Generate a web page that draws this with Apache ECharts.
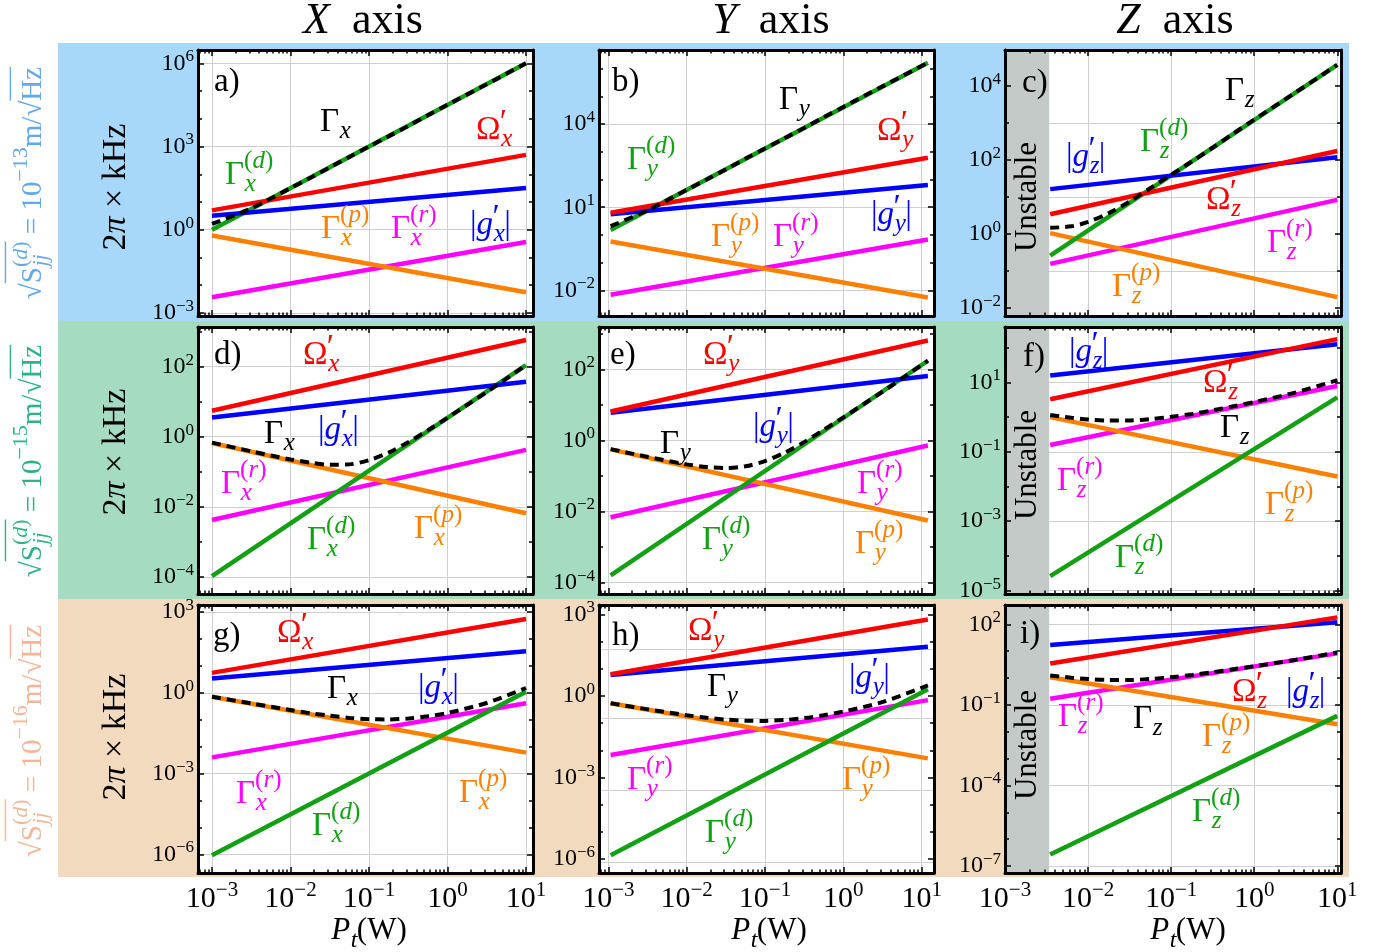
<!DOCTYPE html>
<html>
<head>
<meta charset="utf-8">
<script src="https://cdn.jsdelivr.net/npm/echarts@6/dist/echarts.min.js"></script>
<style>
  html, body { margin: 0; padding: 0; background: #fff; }
  #chart { width: 1396px; height: 952px; }
</style>
</head>
<body>
<div id="chart"></div>
<script>
// ---- data (values in 2pi x kHz, power in W) ----

// power at the ends of the straight (power-law) lines, per column
var P_LINE_X = [1e-3, 10];
var P_LINE_Y = [1.07e-3, 12];
var P_LINE_Z = [3.5e-3, 10];
// power samples of the dashed total damping curve, per column
var P_TOT_X = [1e-3, 3.2e-3, 1e-2, 1.8e-2, 3.2e-2, 5.6e-2, 0.1, 0.18, 0.32, 0.56, 1, 3.2, 10];
var P_TOT_Y = [1.07e-3, 3.2e-3, 1e-2, 1.8e-2, 3.2e-2, 5.6e-2, 0.1, 0.18, 0.32, 0.56, 1, 3.2, 12];
var P_TOT_Z = [3.5e-3, 6.3e-3, 1e-2, 1.8e-2, 3.2e-2, 5.6e-2, 0.1, 0.18, 0.32, 0.56, 1, 3.2, 10];
// unstable power range of the z axis
var UNSTABLE_P = [1e-3, 3.4e-3];

// a) x axis, 1e-13
var A_OMEGA = [5.0, 500];
var A_G = [3.2, 32];
var A_GD = [1.0, 1.0e6];
var A_GP = [0.62, 5.6e-3];
var A_GR = [3.7e-3, 0.36];
var A_GTOT = [1.62, 6.0, 31.8, 75, 178, 422, 1.0e3, 2.37e3, 5.6e3, 1.33e4, 3.2e4, 1.8e5, 1.0e6];
// b) y axis, 1e-13
var B_OMEGA = [6.3, 617];
var B_G = [5.6, 63];
var B_GD = [1.5, 1.66e6];
var B_GP = [0.575, 5.5e-3];
var B_GR = [6.9e-3, 0.68];
var B_GTOT = [2.06, 7.85, 42.4, 100, 237, 562, 1.33e3, 3.16e3, 7.5e3, 1.78e4, 4.2e4, 2.37e5, 1.66e6];
// c) z axis, 1e-13
var C_OMEGA = [3.4, 174];
var C_G = [16.2, 117];
var C_GD = [0.257, 3.7e4];
var C_GP = [1.05, 0.0195];
var C_GR = [0.155, 8.3];
var C_GTOT = [1.46, 1.60, 2.10, 3.70, 7.6, 17.1, 39.5, 92, 216, 513, 1.22e3, 6.8e3, 3.7e4];
// d) x axis, 1e-15
var D_OMEGA = [5.5, 575];
var D_G = [3.5, 37];
var D_GD = [1.05e-4, 110];
var D_GP = [0.66, 6.5e-3];
var D_GR = [4.2e-3, 0.42];
var D_GTOT = [0.676, 0.38, 0.224, 0.182, 0.158, 0.162, 0.214, 0.355, 0.708, 1.51, 3.47, 19.1, 110];
// e) y axis, 1e-15
var E_OMEGA = [6.5, 645];
var E_G = [6.0, 65];
var E_GD = [1.6e-4, 174];
var E_GP = [0.56, 5.6e-3];
var E_GR = [6.9e-3, 0.72];
var E_GTOT = [0.569, 0.343, 0.212, 0.179, 0.168, 0.187, 0.263, 0.457, 0.91, 1.98, 4.45, 23.8, 175];
// f) z axis, 1e-15
var F_OMEGA = [3.3, 178];
var F_G = [15.8, 126];
var F_GD = [2.6e-5, 3.7];
var F_GP = [1.0, 0.0195];
var F_GR = [0.158, 7.9];
var F_GTOT = [1.16, 0.96, 0.86, 0.80, 0.805, 0.875, 1.02, 1.24, 1.58, 2.06, 2.74, 5.2, 11.7];
// g) x axis, 1e-16
var G_OMEGA = [5.5, 550];
var G_G = [3.4, 35];
var G_GD = [9.3e-7, 1.1];
var G_GP = [0.71, 6.0e-3];
var G_GR = [4.0e-3, 0.41];
var G_GTOT = [0.71, 0.40, 0.229, 0.174, 0.141, 0.117, 0.105, 0.103, 0.112, 0.135, 0.178, 0.427, 1.51];
// h) y axis, 1e-16
var H_OMEGA = [6.3, 660];
var H_G = [6.0, 65];
var H_GD = [1.4e-6, 1.78];
var H_GP = [0.54, 5.1e-3];
var H_GR = [6.8e-3, 0.71];
var H_GTOT = [0.544, 0.324, 0.197, 0.160, 0.136, 0.124, 0.122, 0.132, 0.155, 0.196, 0.266, 0.611, 2.46];
// i) z axis, 1e-16
var I_OMEGA = [3.5, 182];
var I_G = [17, 120];
var I_GD = [2.7e-7, 0.039];
var I_GP = [1.07, 0.019];
var I_GR = [0.17, 8.3];
var I_GTOT = [1.24, 1.03, 0.92, 0.85, 0.85, 0.92, 1.07, 1.31, 1.65, 2.12, 2.75, 4.8, 8.9];

// tick exponents (decades) shown per panel
var Y_LABELS = [[-3, 0, 3, 6], [-2, 1, 4], [-2, 0, 2, 4], [-4, -2, 0, 2], [-4, -2, 0, 2], [-5, -3, -1, 1], [-6, -3, 0, 3], [-6, -3, 0, 3], [-7, -4, -1, 2]];
var Y_GRID = [[-3, 0, 3, 6], [-2, 1, 4], [-1, 1, 3], [-4, -2, 0, 2], [-4, -2, 0, 2], [-5, -3, -1, 1], [-6, -3, 0, 3], [-6.1, -3.48, -0.81, 1.73], [-7, -4, -1, 2]];
var X_LABELS = [-3, -2, -1, 0, 1];

// ---- layout ----
var SERIF = '"Liberation Serif", "DejaVu Serif", serif';
var COL = { k: '#000000', r: '#ff0000', b: '#0000ff', g: '#14a014', o: '#ff8000', m: '#ff00ff' };

var COLS = [
  { left: 198, width: 335, xr: [-3.178, 1.089], pl: P_LINE_X, pt: P_TOT_X },
  { left: 599, width: 335, xr: [-3.119, 1.157], pl: P_LINE_Y, pt: P_TOT_Y },
  { left: 1005, width: 336, xr: [-3.0, 1.045], pl: P_LINE_Z, pt: P_TOT_Z }
];
var ROWS = [{ top: 50, height: 266 }, { top: 327, height: 267 }, { top: 605, height: 268 }];

var PANELS = [
  { yr: [-3.11, 6.48], d: [A_OMEGA, A_G, A_GD, A_GP, A_GR, A_GTOT] },
  { yr: [-2.93, 6.68], d: [B_OMEGA, B_G, B_GD, B_GP, B_GR, B_GTOT] },
  { yr: [-2.22, 4.97], d: [C_OMEGA, C_G, C_GD, C_GP, C_GR, C_GTOT] },
  { yr: [-4.49, 3.13], d: [D_OMEGA, D_G, D_GD, D_GP, D_GR, D_GTOT] },
  { yr: [-4.32, 3.19], d: [E_OMEGA, E_G, E_GD, E_GP, E_GR, E_GTOT] },
  { yr: [-5.10, 2.60], d: [F_OMEGA, F_G, F_GD, F_GP, F_GR, F_GTOT] },
  { yr: [-6.69, 3.26], d: [G_OMEGA, G_G, G_GD, G_GP, G_GR, G_GTOT] },
  { yr: [-6.51, 3.35], d: [H_OMEGA, H_G, H_GD, H_GP, H_GR, H_GTOT] },
  { yr: [-7.26, 2.72], d: [I_OMEGA, I_G, I_GD, I_GP, I_GR, I_GTOT] }
];

// ---- text helpers (stacked sub/superscripts) ----
var ctx = document.createElement('canvas').getContext('2d');
function fontStr(size, it) { return (it ? 'italic ' : '') + size + 'px ' + SERIF; }
function tw(t, size, it) { ctx.font = fontStr(size, it); return ctx.measureText(t).width; }
function runsOf(s) {
  return s.split('*').map(function (t, i) { return [t, i % 2 === 1]; }).filter(function (r) { return r[0]; });
}
function mathLabel(atoms, size, color, x, y, opt) {
  opt = opt || {};
  var kids = [];
  var small = Math.round(size * 0.76);
  var cx = 0;
  function put(s, fs, x0, y0) {
    var xx = x0;
    runsOf(s).forEach(function (r) {
      kids.push({ type: 'text', x: xx, y: y0, z: 100, style: {
        text: r[0], font: fontStr(fs, r[1]), fill: color,
        align: 'left', verticalAlign: 'middle', textAlign: 'left', textVerticalAlign: 'middle' } });
      xx += tw(r[0], fs, r[1]);
    });
    return xx - x0;
  }
  atoms.forEach(function (a) {
    var start = cx;
    cx += put(a[0], size, cx, 0);
    var w = 0;
    if (a[1]) w = Math.max(w, put(a[1], small, cx + size * 0.02, size * 0.3));
    if (a[2] === '′') w = Math.max(w, put('′', Math.round(size * 1.0), cx - size * 0.02, -size * 0.2));
    else if (a[2]) w = Math.max(w, put(a[2], small, cx, -size * 0.42));
    cx += w;
    if (a[3]) kids.push({ type: 'line', z: 100, shape: { x1: start, y1: -size * a[3], x2: cx, y2: -size * a[3] },
      style: { stroke: color, lineWidth: 1.4 } });
  });
  if (opt.center) {
    kids.forEach(function (k) {
      if (k.type === 'text') k.x -= cx / 2;
      else { k.shape.x1 -= cx / 2; k.shape.x2 -= cx / 2; }
    });
  }
  return { type: 'group', x: x, y: y, rotation: opt.rot || 0, z: 100, children: kids };
}
function GAM(ax, sup) { return [['Γ', '*' + ax + '*', sup ? '(*' + sup + '*)' : '']]; }
function OM(ax) { return [['Ω', '*' + ax + '*', '′']]; }
function GG(ax) { return [['|'], ['*g*', '*' + ax + '*', '′'], ['|']]; }

// curve labels: [atoms, x, y, colour]
var CURVE_LABELS = [
  [GAM('x'), 320, 122, 'k'], [OM('x'), 476, 130, 'r'], [GAM('x', 'd'), 225, 175, 'g'],
  [GAM('x', 'p'), 321, 229, 'o'], [GAM('x', 'r'), 391, 229, 'm'], [GG('x'), 470, 225, 'b'],
  [GAM('y'), 779, 100, 'k'], [OM('y'), 877, 131, 'r'], [GAM('y', 'd'), 627, 160, 'g'],
  [GAM('y', 'p'), 711, 237, 'o'], [GAM('y', 'r'), 773, 237, 'm'], [GG('y'), 871, 215, 'b'],
  [GAM('z'), 1225, 91, 'k'], [GAM('z', 'd'), 1140, 142, 'g'], [GG('z'), 1066, 157, 'b'],
  [OM('z'), 1206, 200, 'r'], [GAM('z', 'r'), 1267, 243, 'm'], [GAM('z', 'p'), 1112, 287, 'o'],
  [OM('x'), 303, 355, 'r'], [GAM('x'), 264, 434, 'k'], [GG('x'), 318, 430, 'b'],
  [GAM('x', 'r'), 221, 484, 'm'], [GAM('x', 'd'), 307, 540, 'g'], [GAM('x', 'p'), 414, 529, 'o'],
  [OM('y'), 703, 355, 'r'], [GAM('y'), 660, 444, 'k'], [GG('y'), 753, 427, 'b'],
  [GAM('y', 'r'), 857, 484, 'm'], [GAM('y', 'd'), 702, 540, 'g'], [GAM('y', 'p'), 855, 544, 'o'],
  [GG('z'), 1069, 352, 'b'], [OM('z'), 1203, 383, 'r'], [GAM('z'), 1220, 428, 'k'],
  [GAM('z', 'r'), 1057, 481, 'm'], [GAM('z', 'p'), 1265, 505, 'o'], [GAM('z', 'd'), 1115, 558, 'g'],
  [OM('x'), 277, 633, 'r'], [GAM('x'), 327, 689, 'k'], [GG('x'), 418, 688, 'b'],
  [GAM('x', 'r'), 236, 794, 'm'], [GAM('x', 'p'), 459, 793, 'o'], [GAM('x', 'd'), 312, 826, 'g'],
  [OM('y'), 688, 631, 'r'], [GAM('y'), 707, 687, 'k'], [GG('y'), 849, 678, 'b'],
  [GAM('y', 'r'), 627, 780, 'm'], [GAM('y', 'p'), 842, 780, 'o'], [GAM('y', 'd'), 705, 833, 'g'],
  [OM('z'), 1232, 692, 'r'], [GG('z'), 1286, 692, 'b'], [GAM('z', 'r'), 1058, 717, 'm'],
  [GAM('z'), 1133, 719, 'k'], [GAM('z', 'p'), 1202, 737, 'o'], [GAM('z', 'd'), 1192, 812, 'g']
];
var PANEL_TAGS = [['a)', 214, 82], ['b)', 612, 82], ['c)', 1022, 83], ['d)', 214, 355], ['e)', 610, 355],
  ['f)', 1023, 357], ['g)', 213, 636], ['h)', 612, 636], ['i)', 1020, 634]];

var NOISE_EXP = ['−13', '−15', '−16'];
var ROW_TEXT_COL = ['#62a8ea', '#2fb384', '#f3b797'];
var ROW_BAND_COL = ['#a8d8f9', '#a5dbc0', '#f2dabf'];

// ---- build the option ----
function lg(v) { return Math.log10(v); }
function expLabel(v) {
  var e = Math.round(v);
  return '{b|10}{s|' + (e < 0 ? '−' + (-e) : e) + '}';
}
function intsIn(r) { var a = []; for (var n = Math.ceil(r[0] - 1e-9); n <= r[1] + 1e-9; n++) a.push(n); return a; }
function minorLogs(r) {
  var a = [];
  for (var n = Math.floor(r[0]) - 1; n <= Math.ceil(r[1]); n++) {
    for (var k = 2; k <= 9; k++) { var v = n + Math.log10(k); if (v > r[0] && v < r[1]) a.push(v); }
  }
  return a;
}
var frameLine = { show: true, onZero: false, lineStyle: { color: '#000', width: 3 } };
var noLine = { show: false, onZero: false };
var tickStyle = { color: '#000', width: 1.5 };

var grids = [], xAxes = [], yAxes = [], series = [];

PANELS.forEach(function (P, p) {
  var ci = p % 3, ri = Math.floor(p / 3);
  var c = COLS[ci], r = ROWS[ri];
  grids.push({ left: c.left, top: r.top, width: c.width, height: r.height, show: true,
    backgroundColor: '#fff', borderWidth: 0, containLabel: false, outerBoundsMode: 'none' });

  var xr = c.xr, yr = P.yr;
  var xMaj = intsIn(xr), xMin = minorLogs(xr);
  var yDec = intsIn(yr);
  var yLab = Y_LABELS[p];
  var yOther = yDec.filter(function (v) { return yLab.indexOf(v) < 0; });

  function base(extra) {
    return Object.assign({ type: 'value', gridIndex: p, silent: true,
      axisLine: noLine, axisTick: { show: false }, axisLabel: { show: false },
      splitLine: { show: false } }, extra);
  }
  var xb = { min: xr[0], max: xr[1] };
  xAxes.push(base(Object.assign({ position: 'bottom', z: 10, axisLine: frameLine,
    axisTick: { show: true, inside: true, length: 6, customValues: xMaj, lineStyle: tickStyle },
    axisLabel: ri === 2 ? {
      show: true, customValues: X_LABELS, formatter: expLabel, margin: 7, color: '#000',
      rich: {
        b: { fontSize: 30, fontFamily: SERIF, color: '#000', lineHeight: 38 },
        s: { fontSize: 21, fontFamily: SERIF, color: '#000', verticalAlign: 'top', lineHeight: 20 }
      } } : { show: false } }, xb)));
  xAxes.push(base(Object.assign({ position: 'bottom', z: 10,
    axisTick: { show: true, inside: true, length: 3.5, customValues: xMin, lineStyle: tickStyle } }, xb)));
  xAxes.push(base(Object.assign({ position: 'top', z: 10, axisLine: frameLine,
    axisTick: { show: true, inside: true, length: 6, customValues: xMaj, lineStyle: tickStyle } }, xb)));
  xAxes.push(base(Object.assign({ position: 'top', z: 10,
    axisTick: { show: true, inside: true, length: 3.5, customValues: xMin, lineStyle: tickStyle } }, xb)));
  xAxes.push(base(Object.assign({ position: 'bottom', z: 0,
    axisTick: { show: false, customValues: xMaj },
    splitLine: { show: true, lineStyle: { color: '#cfcfcf', width: 1 } } }, xb)));

  var yb = { min: yr[0], max: yr[1] };
  yAxes.push(base(Object.assign({ position: 'left', z: 10, axisLine: frameLine,
    axisTick: { show: true, inside: true, length: 6, customValues: yLab, lineStyle: tickStyle },
    axisLabel: { show: true, customValues: yLab, formatter: expLabel, margin: 4, color: '#000',
      rich: {
        b: { fontSize: 24, fontFamily: SERIF, color: '#000', lineHeight: 30 },
        s: { fontSize: 17, fontFamily: SERIF, color: '#000', verticalAlign: 'top', lineHeight: 16 }
      } } }, yb)));
  yAxes.push(base(Object.assign({ position: 'left', z: 10,
    axisTick: { show: true, inside: true, length: 4, customValues: yOther, lineStyle: tickStyle } }, yb)));
  yAxes.push(base(Object.assign({ position: 'right', z: 10, axisLine: frameLine,
    axisTick: { show: true, inside: true, length: 6, customValues: yLab, lineStyle: tickStyle } }, yb)));
  yAxes.push(base(Object.assign({ position: 'right', z: 10,
    axisTick: { show: true, inside: true, length: 4, customValues: yOther, lineStyle: tickStyle } }, yb)));
  yAxes.push(base(Object.assign({ position: 'left', z: 0,
    axisTick: { show: false, customValues: Y_GRID[p] },
    splitLine: { show: true, lineStyle: { color: '#cfcfcf', width: 1 } } }, yb)));

  function line(xs, ys, color, dashed) {
    return {
      type: 'line', xAxisIndex: p * 5, yAxisIndex: p * 5, silent: true, animation: false,
      symbol: 'none', showSymbol: false, smooth: dashed ? 0.3 : false, z: dashed ? 4 : 3,
      data: xs.map(function (x, i) { return [lg(x), lg(ys[i])]; }),
      lineStyle: { color: color, width: dashed ? 4 : 4.5, type: dashed ? [9, 6] : 'solid', cap: 'butt' }
    };
  }
  var d = P.d;
  var sr = line(c.pl, d[4], COL.m);
  if (ci === 2) {
    sr.markArea = { silent: true, itemStyle: { color: '#c3cac7', opacity: 1 },
      data: [[{ xAxis: lg(UNSTABLE_P[0]) }, { xAxis: lg(UNSTABLE_P[1]) }]] };
  }
  series.push(sr);
  series.push(line(c.pl, d[3], COL.o));
  series.push(line(c.pl, d[2], COL.g));
  series.push(line(c.pl, d[1], COL.b));
  series.push(line(c.pl, d[0], COL.r));
  series.push(line(c.pt, d[5], COL.k, true));
});

// ---- decorations and text ----
var graphics = [];
ROW_BAND_COL.forEach(function (col, i) {
  graphics.push({ type: 'rect', z: -10, shape: { x: 58, y: 43 + i * 278, width: 1291, height: 278 },
    style: { fill: col } });
});
CURVE_LABELS.forEach(function (L) { graphics.push(mathLabel(L[0], 33, COL[L[3]], L[1], L[2])); });
PANEL_TAGS.forEach(function (t) { graphics.push(mathLabel([[t[0]]], 33, '#000', t[1], t[2])); });

var rowMid = [183, 461, 741];
var yNameMid = [187, 452, 737];
var unstableMid = [197, 465, 745];
for (var i = 0; i < 3; i++) {
  graphics.push(mathLabel([['√'], ['S', '*jj*', '(*d*)', 0.95], [' = 10', '', NOISE_EXP[i]], ['m/√'], ['Hz', '', '', 0.78]],
    29, ROW_TEXT_COL[i], 33, rowMid[i], { center: true, rot: Math.PI / 2 }));
  graphics.push(mathLabel([['2*π* × kHz']], 34, '#000', 116, yNameMid[i], { center: true, rot: Math.PI / 2 }));
  graphics.push(mathLabel([['Unstable']], 31, '#000', 1028, unstableMid[i], { center: true, rot: Math.PI / 2 }));
}
[['*X*  axis', 363], ['*Y*  axis', 771], ['*Z*  axis', 1175]].forEach(function (t) {
  graphics.push(mathLabel([[t[0]]], 44, '#000', t[1], 21, { center: true }));
});
[369, 769, 1188].forEach(function (x) {
  graphics.push(mathLabel([['*P*', '*t*'], ['(W)']], 31, '#000', x, 931, { center: true }));
});

var chart = echarts.init(document.getElementById('chart'), null, { renderer: 'canvas' });
chart.setOption({
  animation: false,
  backgroundColor: '#fff',
  grid: grids,
  xAxis: xAxes,
  yAxis: yAxes,
  series: series,
  graphic: { elements: graphics }
});
</script>
</body>
</html>
